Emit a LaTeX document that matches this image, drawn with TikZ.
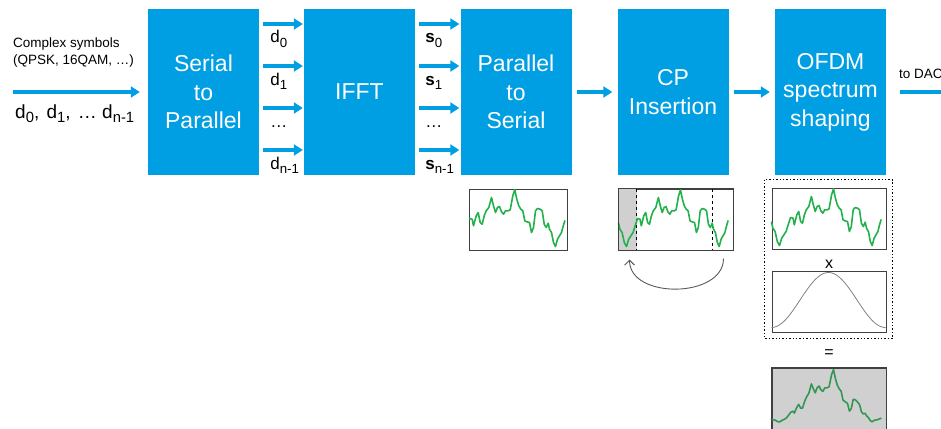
\documentclass[tikz,border=0pt]{standalone}
\usepackage{fontspec}
\setmainfont{Liberation Sans}
\usetikzlibrary{arrows.meta,calc}

\definecolor{blockblue}{RGB}{0,158,227}
\definecolor{wavegreen}{RGB}{34,177,76}
\definecolor{darkwave}{RGB}{50,150,85}
\definecolor{greyfill}{RGB}{208,208,208}

\newcommand{\idx}[1]{\raisebox{-0.45ex}{\scalebox{0.78}{#1}}}

\newcommand{\pslist}{3.7/30.7, 5/37.3, 7.7/27.3, 9.7/24, 11.7/34, 13.7/35.7, 15.7/27.3, 17.7/22.3, 20.3/19, 23/9, 25/17.3, 27/24, 29/19, 31/18, 33/23.3, 35/25.7, 37/22.3, 39.7/22.3, 41.7/21.3, 44.3/7.3, 46.3/1.3, 48.3/10.7, 50.3/17.3, 52.3/20.7, 54.3/22.3, 56.3/32.3, 58.3/33.3, 61/34, 63/44, 65/39, 67/22.3, 69/20, 71.7/20.7, 73.7/22.3, 75.7/35.7, 77.7/39, 79.7/34.7, 81/40.7, 83/44, 85/54, 87/58, 89/50.7, 91/47.3, 93/44, 94.3/39, 96.3/32.3}
\newcommand{\cplist}{0/34.7, 1.4/40.7, 3.6/44, 5.8/54, 8/58, 10.2/50.7, 12.4/47.3, 14.6/44, 16.1/39, 18.3/32.3, 19/30, 21.5/30.7, 22.8/37.3, 25.3/27.3, 27.2/24, 29.1/34, 31/35.7, 32.9/27.3, 34.8/22.3, 37.3/19, 39.9/9, 41.8/17.3, 43.7/24, 45.6/19, 47.5/18, 49.4/23.3, 51.3/25.7, 53.2/22.3, 55.7/22.3, 57.6/21.3, 60.1/7.3, 62/1.3, 63.9/10.7, 65.8/17.3, 67.7/20.7, 69.6/22.3, 71.5/32.3, 73.4/33.3, 76/34, 77.9/44, 79.8/39, 81.7/22.3, 83.6/20, 86.1/20.7, 88/22.3, 89.9/35.7, 91.8/39, 93.7/34.7, 95/40.7, 96.9/44, 98.8/54, 100.7/58, 102.6/50.7, 104.5/47.3, 106.4/44, 107.6/39, 109.5/32.3}

\begin{document}
\begin{tikzpicture}[x=1pt, y=-1pt,
    block/.style ={rectangle, fill=blockblue, text=white, align=center,
      minimum width=111pt, minimum height=166pt, inner sep=0pt,
      font=\fontsize{23}{28.5}\selectfont},
    flow/.style ={blockblue, line width=3.5pt, -{Triangle[length=9pt,width=11pt]}},
    lbl/.style ={inner sep=0pt, font=\fontsize{17}{20}\selectfont},
    small/.style ={inner sep=0pt, font=\fontsize{13.5}{17}\selectfont},
    wavebox/.style ={rectangle, draw=black!75, line width=1pt, inner sep=0pt,
      minimum width=114pt, minimum height=61pt},
    wave/.style ={wavegreen, line width=1.6pt, line join=round, line cap=round}]
   \useasboundingbox (0,0) rectangle (941,428);

   \node[block] (SP) at (203.5,92) {Serial\\to\\Parallel};
   \node[block] (IFFT) at (359.5,92) {IFFT};
   \node[block] (PS) at (516,92) {Parallel\\to\\Serial};
   \node[block] (CP) at (673,92) {CP\\Insertion};
   \node[block] (OFDM) at (830.5,92) {OFDM\\spectrum\\shaping};

   \coordinate (in) at (13,92);
   \coordinate (dac) at (952,92);
   \node[small, anchor=west, align=left] (cs) at (13,53) {Complex symbols\\(QPSK, 16QAM, …)};
   \node[lbl, anchor=base west, font=\fontsize{19}{22}\selectfont] (dseq) at (15,118)
     {d\idx{0},\hspace{2pt} d\idx{1},\hspace{2pt} … d\idx{n-1}};
   \draw[flow, shorten >=8pt] (in) -- (SP.west);

   \foreach \row/\dl/\sl in {24/{d\idx{0}}/{\textbf{s}\idx{0}},
       66/{d\idx{1}}/{\textbf{s}\idx{1}},
       108/{…}/{…},
       150/{d\idx{n-1}}/{\textbf{s}\idx{n-1}}} {
     \coordinate (r) at (0,\row);
     \draw[flow, shorten <=4pt, shorten >=1pt] (SP.east |- r) -- (IFFT.west |- r);
     \draw[flow, shorten <=4pt, shorten >=1pt] (IFFT.east |- r) -- (PS.west |- r);
     \node[lbl, anchor=base west] (d\row) at ($(SP.east |- r)+(11,19)$) {\dl};
     \node[lbl, anchor=base west] (s\row) at ($(IFFT.east |- r)+(10,19)$) {\sl};
   }

   \draw[flow, shorten <=5pt, shorten >=5pt] (PS) -- (CP);
   \draw[flow, shorten <=5pt, shorten >=5pt] (CP) -- (OFDM);
   \draw[flow, shorten <=14pt] (OFDM) -- (dac);
   \node[small, anchor=west] (todac) at (899,74) {to DAC};

   \node[wavebox, minimum width=98pt] (wPS) at (518,219.5) {};
   \node[wavebox] (wCP) at (676,219.5) {};
   \node[wavebox] (wOF) at (829,218.5) {};
   \node[wavebox] (wWin) at (829,301.5) {};
   \node[wavebox, fill=greyfill] (wOut) at (829,398.5) {};

   \fill[greyfill] ($(wCP.north west)+(0.5,0.5)$) rectangle ($(wCP.south west)+(18.3,-0.5)$);
   \draw[dashed, line width=0.8pt] ($(wCP.north west)+(18.3,0)$) -- ($(wCP.south west)+(18.3,0)$);
   \draw[dashed, line width=0.8pt] ($(wCP.north west)+(93.7,0)$) -- ($(wCP.south west)+(93.7,0)$);

   \begin{scope}[shift={(wPS.north west)}]
     \draw[wave] (1,30) \foreach \x/\y in \pslist {-- (\x,\y)};
   \end{scope}
   \begin{scope}[shift={(wCP.north west)}]
     \draw[wave] (0,34.7) \foreach \x/\y in \cplist {-- (\x,\y)};
   \end{scope}
   \begin{scope}[shift={(wOF.north west)}]
     \draw[wave] (0,34.7) \foreach \x/\y in \cplist {-- (\x,\y)};
   \end{scope}
   \begin{scope}[shift={(wWin.north west)}]
     \draw[gray, line width=0.8pt] plot[domain=0:114, samples=80] (\x,{57-55*(1-cos(\x/114*360))/2});
   \end{scope}
   \begin{scope}[shift={(wOut.north west)}]
     \draw[wave, draw=darkwave] (0,51.5) \foreach \x/\y in \cplist
       {-- (\x,{61-(6+(61-\y)*0.9*(0.15+0.85*(1-cos(\x/114*360))/2))})};
   \end{scope}

   \draw[black!75, line width=1pt] (wCP.north west) rectangle (wCP.south east);
   \draw[black!75, line width=1pt] (wOut.north west) rectangle (wOut.south east);
   \draw[dotted, line width=1.4pt] ($(wOF.north west)+(-7,-8)$) rectangle ($(wWin.south east)+(6,6)$);
   \node[lbl, font=\fontsize{16}{18}\selectfont] (times) at ($(wWin.north)+(0,-6)$) {x};
   \node[lbl, font=\fontsize{16}{18}\selectfont] (equals) at ($(wWin.south)!0.5!(wOut.north)+(0,4)$) {=};

   \draw[black!65, line width=0.9pt, -{Straight Barb[length=5pt,width=10pt]}]
     ($(wCP.south east)+(-10,8)$) .. controls +(0,40) and +(0,40) .. ($(wCP.south west)+(11,9)$);
 \end{tikzpicture}
\end{document}
